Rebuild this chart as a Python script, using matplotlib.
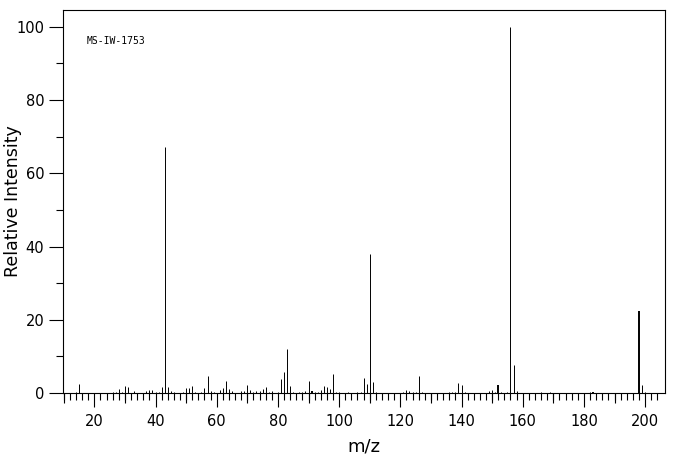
import numpy as np
import matplotlib
matplotlib.use("Agg")
import matplotlib.pyplot as plt

# peak list (m/z, relative intensity %)
mz = [14, 15, 26, 27, 28, 29, 30, 31, 33, 37, 38, 39, 40, 41, 42, 43, 44, 45, 46,
      49, 50, 51, 52, 53, 55, 56, 57, 58, 59, 61, 62, 63, 64, 65, 68, 69, 70, 71,
      72, 73, 74, 75, 76, 77, 78, 80, 81, 82, 83, 84, 85, 87, 88, 89, 90, 91, 92,
      93, 94, 95, 96, 97, 98, 99, 100, 103, 106, 107, 108, 109, 110, 111, 112,
      121, 122, 123, 124, 125, 126, 127, 136, 137, 138, 139, 140, 141, 149, 150,
      151, 152, 153, 155, 156, 157, 158, 166, 169, 182, 183, 198, 199, 200]
intensity = [0.3, 2.5, 0.3, 0.3, 1.1, 0.3, 1.9, 1.6, 0.5, 0.5, 0.8, 0.8, 0.3, 0.3,
             1.6, 67.2, 1.6, 0.5, 0.3, 0.3, 1.4, 1.4, 1.9, 0.3, 0.3, 1.4, 4.6, 0.5,
             0.3, 0.8, 1.4, 3.3, 1.1, 0.5, 0.5, 0.5, 2.2, 0.8, 0.3, 0.5, 0.5, 1.1,
             1.6, 0.3, 0.5, 0.3, 3.8, 5.7, 12.0, 1.9, 0.3, 0.3, 0.3, 0.5, 3.3, 0.5,
             0.3, 0.3, 0.8, 1.9, 1.6, 1.1, 5.2, 0.3, 0.3, 0.3, 0.4, 0.3, 4.1, 2.5,
             38.0, 3.0, 0.3, 0.3, 0.8, 0.5, 0.3, 0.3, 4.6, 0.3, 0.3, 0.3, 0.3, 2.7,
             2.2, 0.3, 0.5, 0.8, 0.3, 2.2, 0.3, 0.3, 100.0, 7.6, 0.5, 0.3, 0.3, 0.3,
             0.3, 22.4, 2.2, 0.3]
wide_peaks = [91, 152, 183, 198]
label = "MS-IW-1753"

fig = plt.figure(figsize=(6.76, 4.55), dpi=100)
ax = fig.add_axes([63/676, 62/455, 602/676, 383/455])

lw = [1.4 if m in wide_peaks else 0.7 for m in mz]
ax.vlines(mz, 0, intensity, colors="black", linewidths=lw)

ax.set_xlim(9.77, 206.5)
ax.set_ylim(0, 104.6)

for s in ax.spines.values():
    s.set_linewidth(0.8)

ax.set_xticks(np.arange(20, 201, 20))
ax.set_xticks(np.arange(10, 205, 2), minor=True)
ax.set_yticks(np.arange(0, 101, 20))
ax.set_yticks(np.arange(10, 101, 20), minor=True)
ax.tick_params(axis="both", which="major", length=10, width=0.8, labelsize=10.5)
ax.tick_params(axis="both", which="minor", length=5, width=0.8)
ax.tick_params(axis="x", which="major", pad=5)

# medium ticks every 10
sec = ax.secondary_xaxis("bottom")
sec.set_xticks(np.arange(10, 201, 20))
sec.tick_params(length=7.5, width=0.8, labelbottom=False)
sec.spines["bottom"].set_visible(False)

ax.set_xlabel("m/z", fontsize=13, labelpad=6)
ax.set_ylabel("Relative Intensity", fontsize=12.5)
ax.yaxis.set_label_coords(-0.068, 0.5)
ax.text(0.04, 0.92, label, transform=ax.transAxes, fontsize=7,
        family="DejaVu Sans Mono", va="center", ha="left")

fig.savefig("out.png", dpi=100)
